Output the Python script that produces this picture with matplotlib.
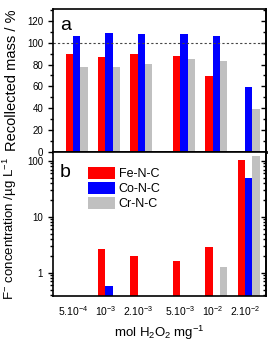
import numpy as np
import matplotlib
matplotlib.use('Agg')
import matplotlib.pyplot as plt

plt.rcParams['font.family'] = ['Liberation Sans', 'DejaVu Sans']
plt.rcParams['mathtext.fontset'] = 'custom'
plt.rcParams['mathtext.rm'] = 'Liberation Sans'
plt.rcParams['mathtext.it'] = 'Liberation Sans:italic'
plt.rcParams['mathtext.bf'] = 'Liberation Sans:bold'

# H2O2 dose (mol H2O2 per mg catalyst)
doses = [5e-4, 1e-3, 2e-3, 5e-3, 1e-2, 2e-2]
dose_labels = [r'$5.10^{-4}$', r'$10^{-3}$', r'$2.10^{-3}$',
               r'$5.10^{-3}$', r'$10^{-2}$', r'$2.10^{-2}$']
catalysts = ['Fe-N-C', 'Co-N-C', 'Cr-N-C']
colors = ['#ff0000', '#0000ff', '#c0c0c0']

# (a) recollected mass / %
mass_fe = [89.8, 86.7, 89.8, 88.2, 69.9, np.nan]
mass_co = [106.0, 109.3, 107.8, 107.8, 106.5, 59.5]
mass_cr = [77.6, 77.6, 80.9, 85.2, 83.6, 39.7]

# (b) F- concentration / ug L-1 (nan = not detected)
fluor_fe = [np.nan, 2.66, 2.02, 1.64, 2.86, 105.0]
fluor_co = [np.nan, 0.58, np.nan, np.nan, np.nan, 49.5]
fluor_cr = [np.nan, np.nan, np.nan, np.nan, 1.25, 121.0]

x = np.log10(doses)
width = 0.068
offsets = [-width, 0.0, width]

fig = plt.figure(figsize=(2.68, 3.42), dpi=100)
ax1 = fig.add_axes([0.197, 0.556, 0.796, 0.417])
ax2 = fig.add_axes([0.197, 0.135, 0.796, 0.421])

for vals, off, c in zip([mass_fe, mass_co, mass_cr], offsets, colors):
    ax1.bar(x + off, vals, width=width, color=c, linewidth=0)
for vals, off, c, lab in zip([fluor_fe, fluor_co, fluor_cr], offsets, colors, catalysts):
    ax2.bar(x + off, vals, width=width, color=c, linewidth=0, label=lab)

ax1.axhline(100, color='#444444', linestyle=(0, (2, 2)), linewidth=0.8)

xlim = (-3.523, -1.536)
for ax in (ax1, ax2):
    ax.set_xlim(*xlim)
    for s in ax.spines.values():
        s.set_linewidth(1.2)
    ax.tick_params(axis='x', length=0)
    ax.tick_params(axis='y', which='both', direction='out', labelsize=7, width=1)
    ax.tick_params(axis='y', which='major', length=3.5)
    ax.tick_params(axis='y', which='minor', length=2)
ax1.spines['bottom'].set_linewidth(2)

# top panel
ax1.set_ylim(0, 130.7)
ax1.set_yticks(np.arange(0, 121, 20))
ax1.set_yticks(np.arange(10, 131, 10), minor=True)
ax1.set_xticks([])
ax1.set_ylabel('Recollected mass / %', fontsize=10.5)
ax1.yaxis.set_label_coords(-0.16, 0.5)
r1 = ax1.secondary_yaxis('right')
r1.set_yticks(np.arange(0, 121, 20))
r1.set_yticks(np.arange(10, 131, 10), minor=True)
r1.tick_params(which='both', direction='in', labelright=False, width=1)
r1.tick_params(which='major', length=3.5)
r1.tick_params(which='minor', length=2)
r1.spines['right'].set_linewidth(1.2)
ax1.text(0.034, 0.855, 'a', transform=ax1.transAxes, fontsize=14, va='baseline')

# bottom panel
ax2.set_yscale('log')
ax2.set_ylim(0.386, 145)
ax2.set_yticks([1, 10, 100])
ax2.set_yticklabels(['1', '10', '100'])
ax2.set_xticks(x - width / 2)
ax2.set_xticklabels(dose_labels, fontsize=7.5)
ax2.tick_params(axis='x', pad=6)
ax2.set_ylabel(r'F$^{-}$ concentration /µg L$^{-1}$', fontsize=9.5)
ax2.yaxis.set_label_coords(-0.16, 0.47)
ax2.set_xlabel(r'mol H$_2$O$_2$ mg$^{-1}$', fontsize=9.5, labelpad=4)
r2 = ax2.secondary_yaxis('right')
r2.tick_params(which='both', direction='in', labelright=False, width=1)
r2.tick_params(which='major', length=3.5)
r2.tick_params(which='minor', length=2)
r2.spines['right'].set_linewidth(1.2)
ax2.text(0.034, 0.826, 'b', transform=ax2.transAxes, fontsize=14, va='baseline')

ax2.legend(loc='upper left', bbox_to_anchor=(0.165, 0.896), frameon=False,
           fontsize=9, handlelength=2.2, handleheight=1.1, handletextpad=0.25,
           labelspacing=0.15, borderpad=0, borderaxespad=0)

fig.savefig('out.png', dpi=100)
